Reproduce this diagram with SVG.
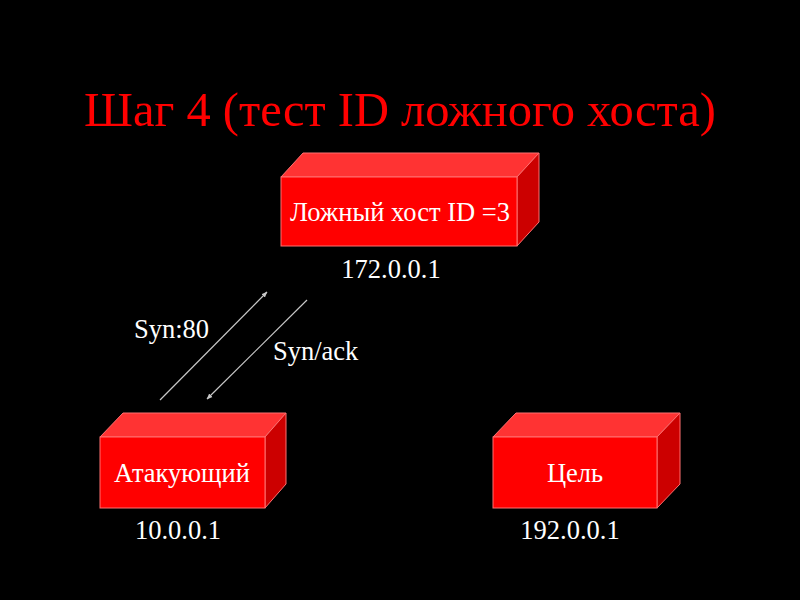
<svg xmlns="http://www.w3.org/2000/svg" width="800" height="600" viewBox="0 0 800 600">
<style>
text{font-family:"Liberation Serif","Times New Roman",serif}
.title{fill:#FF0000;font-size:48.5px}
.lbl{fill:#FFFFFF;font-size:26.5px}
.in{fill:#FFFFFF;font-size:26.5px}
.front{fill:#FF0000;stroke:#FF7070;stroke-width:1}
.top{fill:#FF3333;stroke:#FF7070;stroke-width:1}
.side{fill:#CC0000;stroke:#FF7070;stroke-width:1}
.conn{stroke:#C8C8C8;stroke-width:1.2;fill:none;marker-end:url(#ah)}
</style>
<defs>
<marker id="ah" viewBox="0 0 10 10" refX="9" refY="5" markerWidth="6" markerHeight="6" orient="auto" markerUnits="userSpaceOnUse">
<path d="M0,1 L10,5 L0,9 Z" fill="#C8C8C8"/>
</marker>
</defs>
<rect width="800" height="600" fill="#000000"/>
<text class="title" x="400" y="126" text-anchor="middle">Шаг 4 (тест ID ложного хоста)</text>
<g id="fake-host">
<polygon class="top" points="281,177 303,153 539,153 517,177"/>
<polygon class="side" points="517,177 539,153 539,222 517,246"/>
<rect class="front" x="281" y="177" width="236" height="69"/>
<text class="in" x="400" y="221" text-anchor="middle">Ложный хост ID =3</text>
</g>
<g id="attacker">
<polygon class="top" points="100,437 123,413 286,413 265,437"/>
<polygon class="side" points="265,437 286,413 286,484 265,508"/>
<rect class="front" x="100" y="437" width="165" height="71"/>
<text class="in" x="182" y="482" text-anchor="middle">Атакующий</text>
</g>
<g id="target">
<polygon class="top" points="493,437 516,413 680,413 657,437"/>
<polygon class="side" points="657,437 680,413 680,484 657,508"/>
<rect class="front" x="493" y="437" width="164" height="71"/>
<text class="in" x="575" y="482" text-anchor="middle">Цель</text>
</g>
<g id="labels">
<text class="lbl" x="391" y="278" text-anchor="middle">172.0.0.1</text>
<text class="lbl" x="178" y="539" text-anchor="middle">10.0.0.1</text>
<text class="lbl" x="570" y="539" text-anchor="middle">192.0.0.1</text>
</g>
<g id="connectors">
<line class="conn" x1="160" y1="400" x2="267" y2="292"/>
<line class="conn" x1="307" y1="300" x2="207" y2="399"/>
<text class="lbl" x="134" y="338">Syn:80</text>
<text class="lbl" x="273" y="360">Syn/ack</text>
</g>
</svg>
